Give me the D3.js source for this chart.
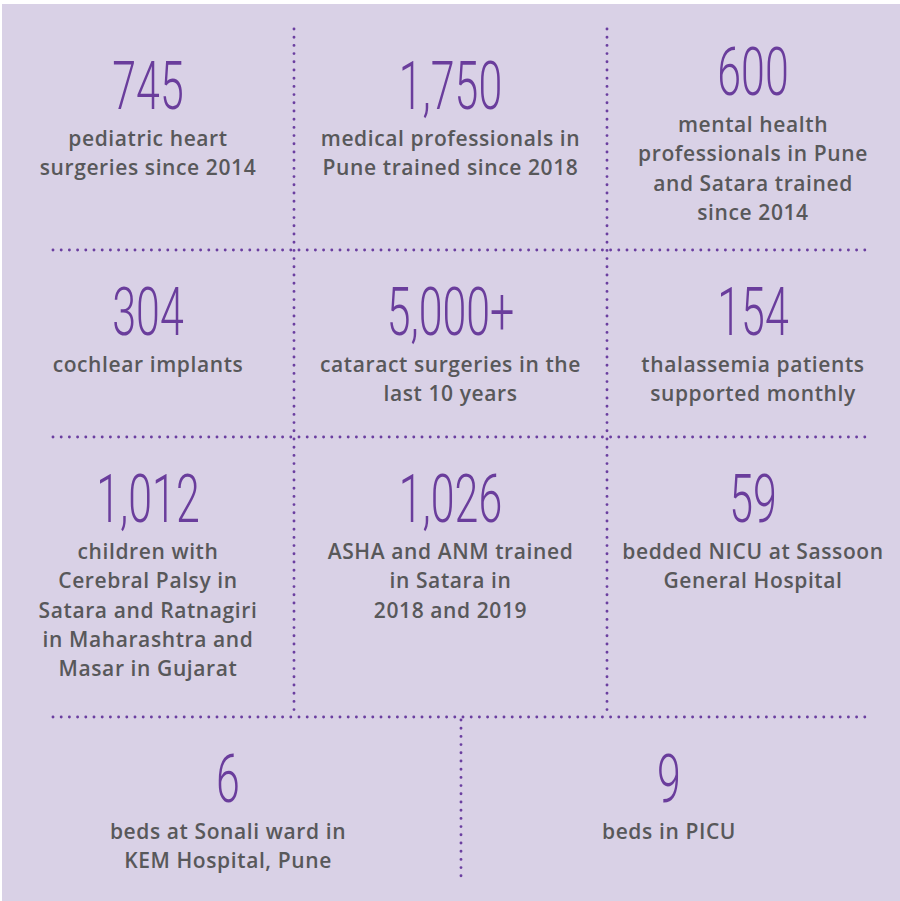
<!DOCTYPE html>
<html>
<head>
<meta charset="utf-8">
<script src="https://cdn.jsdelivr.net/npm/d3@7"></script>
<style>
  html, body { margin: 0; padding: 0; background: #fff; }
  svg { display: block; }
</style>
</head>
<body>
<svg id="chart" width="900" height="901"></svg>
<script>
// figures
const figures = ["745", "1,750", "600", "304", "5,000+", "154", "1,012", "1,026", "59", "6", "9"];

const captions = [
  ["pediatric heart", "surgeries since 2014"],
  ["medical professionals in", "Pune trained since 2018"],
  ["mental health", "professionals in Pune", "and Satara trained", "since 2014"],
  ["cochlear implants"],
  ["cataract surgeries in the", "last 10 years"],
  ["thalassemia patients", "supported monthly"],
  ["children with", "Cerebral Palsy in", "Satara and Ratnagiri", "in Maharashtra and", "Masar in Gujarat"],
  ["ASHA and ANM trained", "in Satara in", "2018 and 2019"],
  ["bedded NICU at Sassoon", "General Hospital"],
  ["beds at Sonali ward in", "KEM Hospital, Pune"],
  ["beds in PICU"]
];

// which grid row each tile sits in
const rowOf = [0, 0, 0, 1, 1, 1, 2, 2, 2, 3, 3];

const svg = d3.select("#chart");
const W = 900, H = 901;

const purple = "#6a3d9c";
const grey = "#58585a";
const lineH = 29.3;

svg.append("rect")
  .attr("x", 2).attr("y", 4)
  .attr("width", W - 2).attr("height", H - 4)
  .attr("fill", "#d9d1e6");

// grid: row tops / bottoms
const rowTop = [24, 250, 437, 717];
const rowBottom = [250, 437, 717, 930];

let col3 = d3.scalePoint().domain([0, 1, 2]).range([148, 753]);
let col2 = d3.scalePoint().domain([0, 1]).range([228, 669]);

// dotted rules
const dots = svg.append("g")
  .attr("stroke", "#6b3fa0")
  .attr("stroke-width", 2.9)
  .attr("stroke-linecap", "round")
  .attr("stroke-dasharray", "0 8.2");

[250, 437, 717].forEach(y => {
  dots.append("line").attr("x1", 53).attr("x2", 869).attr("y1", y).attr("y2", y);
});
[294, 607].forEach(x => {
  dots.append("line").attr("x1", x).attr("x2", x).attr("y1", 29).attr("y2", 715);
});
dots.append("line").attr("x1", 461).attr("x2", 461).attr("y1", 720).attr("y2", 878);

const tiles = figures.map((f, i) => {
  const r = rowOf[i];
  const inRow = rowOf.filter(v => v === r).length;
  const idx = rowOf.slice(0, i).filter(v => v === r).length;
  const cx = inRow === 3 ? col3(idx) : col2(idx);
  let base = rowTop[r] + 85;
  const last = base + 37 + (captions[i].length - 1) * lineH;
  const limit = rowBottom[r] - 30;
  if (last > limit) base -= last - limit;
  return { figure: f, lines: captions[i], cx: cx, base: base };
});

const tile = svg.selectAll(".tile")
  .data(tiles)
  .enter()
  .append("g")
  .attr("class", "tile");

tile.append("text")
  .attr("transform", d => `translate(${d.cx},${d.base}) scale(0.64,1)`)
  .attr("text-anchor", "middle")
  .attr("font-family", "Roboto, sans-serif")
  .attr("font-weight", 300)
  .attr("font-size", 67)
  .attr("fill", purple)
  .text(d => d.figure);

tile.append("text")
  .attr("text-anchor", "middle")
  .attr("font-family", "'Open Sans', sans-serif")
  .attr("font-weight", 600)
  .attr("font-size", 21)
  .attr("letter-spacing", 0.6)
  .attr("fill", grey)
  .selectAll("tspan")
  .data(d => d.lines.map((t, j) => ({ t: t, x: d.cx, y: d.base + 37 + j * lineH })))
  .enter()
  .append("tspan")
  .attr("x", d => d.x)
  .attr("y", d => d.y)
  .text(d => d.t);
</script>
</body>
</html>
